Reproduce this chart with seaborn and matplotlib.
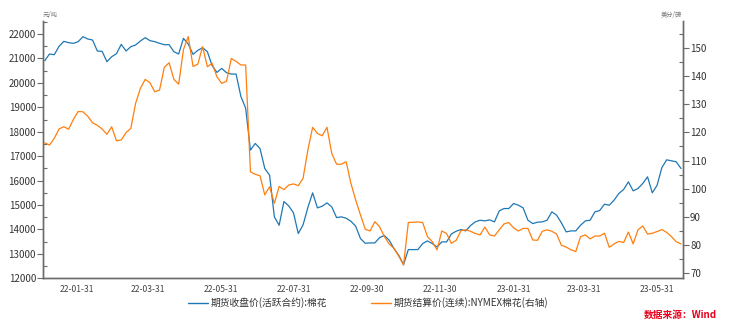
import numpy as np
import pandas as pd
import matplotlib
matplotlib.use("Agg")
import matplotlib.pyplot as plt
import matplotlib.dates as mdates
from matplotlib.ticker import MultipleLocator
from matplotlib.lines import Line2D
import seaborn as sns

# ---------------- data ----------------
start_date = "2022-01-04"
step = "4D"

zce_cotton = [  # 期货收盘价(活跃合约):棉花, 元/吨
    20907, 21181, 21153, 21495, 21700, 21645, 21618, 21686, 21891, 21795,
    21754, 21304, 21290, 20867, 21071, 21194, 21577, 21304, 21481, 21550,
    21713, 21850, 21727, 21686, 21618, 21563, 21563, 21276, 21181, 21823,
    21591, 21167, 21331, 21440, 21276, 20703, 20429, 20593, 20416, 20361,
    20361, 19446, 18968, 17247, 17520, 17315, 16495, 16222, 14515, 14173,
    15143, 14966, 14679, 13832, 14187, 14897, 15498, 14883, 14952, 15088,
    14924, 14487, 14515, 14460, 14337, 14132, 13627,
    13435, 13449, 13449, 13668, 13750, 13558, 13217, 12944, 12561, 13176,
    13176, 13176, 13422, 13531, 13422, 13285, 13490, 13490, 13818, 13927,
    13996, 13941, 14160, 14310, 14378, 14351, 14392, 14310, 14760, 14856,
    14856, 15061, 14993, 14883, 14378, 14241, 14296, 14310, 14378, 14720,
    14583, 14269, 13900, 13941, 13941, 14173, 14351, 14378, 14720, 14774,
    15034, 14993, 15198, 15471, 15635, 15949, 15580, 15676, 15881, 16154,
    15498, 15812, 16536, 16850, 16809, 16769, 16495,
]

nymex_cotton = [  # 期货结算价(连续):NYMEX棉花, 美分/磅
    116.3, 115.5, 117.9, 121.2, 122.0, 121.1, 124.6, 127.4, 127.3, 125.7,
    123.4, 122.5, 121.2, 119.3, 122.0, 117.0, 117.3, 119.9, 121.4, 130.3,
    135.6, 138.8, 137.6, 134.4, 135.0, 143.1, 144.7, 138.8, 137.1, 149.4,
    154.0, 143.4, 144.2, 150.4, 143.3, 144.5, 139.7, 137.4, 138.1, 146.2,
    145.2, 143.9, 143.9, 106.0, 105.1, 104.6, 97.8, 100.7, 94.8, 100.8,
    99.7, 101.3, 101.7, 101.1, 103.7, 113.7, 121.8, 119.6, 118.8, 121.8,
    112.5, 108.7, 108.7, 109.6, 101.9, 96.0, 90.7,
    85.6, 85.0, 88.3, 86.5, 83.0, 80.4, 78.8, 76.1, 72.9, 88.0,
    88.1, 88.2, 88.0, 83.0, 81.2, 78.3, 85.0, 84.1, 80.6, 81.7,
    85.1, 85.4, 84.9, 84.1, 83.6, 86.4, 83.6, 83.2, 85.4, 87.5,
    88.0, 86.1, 85.0, 85.9, 85.9, 81.8, 81.7, 84.9, 85.4, 84.9,
    83.9, 79.9, 79.3, 78.3, 77.7, 83.0, 83.6, 82.2, 83.2, 83.2,
    84.2, 79.2, 80.4, 81.3, 80.9, 84.6, 80.4, 85.4, 86.8, 83.9,
    84.2, 84.8, 85.5, 84.5, 83.0, 81.2, 80.4,
]

label_left = "期货收盘价(活跃合约):棉花"
label_right = "期货结算价(连续):NYMEX棉花(右轴)"
unit_left = "元/吨"
unit_right = "美分/磅"
source_text = "数据来源：Wind"

dates = pd.date_range(start_date, periods=len(zce_cotton), freq=step)
df = pd.DataFrame({"date": dates, "zce": zce_cotton, "nymex": nymex_cotton})

# ---------------- style ----------------
sns.set_style("white")
plt.rcParams["font.family"] = ["Noto Sans CJK SC", "DejaVu Sans"]

c_blue = "#1f77b4"
c_orange = "#ff7f0e"
spine_c = "#6b6b6b"
text_c = "#333333"

fig = plt.figure(figsize=(7.29, 3.24), dpi=100)
ax = fig.add_axes([0.059, 0.141, 0.878, 0.794])
ax2 = ax.twinx()

sns.lineplot(data=df, x="date", y="zce", ax=ax, color=c_blue, linewidth=0.9,
             legend=False)
sns.lineplot(data=df, x="date", y="nymex", ax=ax2, color=c_orange,
             linewidth=0.9, legend=False)

ax.set_xlim(pd.Timestamp("2022-01-02 14:00"), pd.Timestamp("2023-06-21 17:00"))
ax.set_ylim(12000, 22530)
ax2.set_ylim(68.2, 159.5)

ax.set_xlabel("")
ax.set_ylabel("")
ax2.set_ylabel("")

ax.yaxis.set_major_locator(MultipleLocator(1000))
ax.yaxis.set_minor_locator(MultipleLocator(500))
ax2.yaxis.set_major_locator(MultipleLocator(10))
ax2.yaxis.set_minor_locator(MultipleLocator(5))

ax.xaxis.set_major_locator(mdates.MonthLocator(bymonth=[1, 3, 5, 7, 9, 11],
                                               bymonthday=-1))
ax.xaxis.set_minor_locator(mdates.MonthLocator(bymonthday=-1))
ax.xaxis.set_major_formatter(mdates.DateFormatter("%y-%m-%d"))

for a in (ax, ax2):
    a.spines["top"].set_visible(False)
    for s in ("left", "right", "bottom"):
        a.spines[s].set_color(spine_c)
        a.spines[s].set_linewidth(1.0)
    a.grid(False)

ax.tick_params(axis="y", which="major", direction="out", length=4, width=0.8,
               color=spine_c, labelsize=7, labelcolor=text_c, pad=1)
ax.tick_params(axis="y", which="minor", direction="in", length=3, width=0.8,
               color=spine_c)
ax.tick_params(axis="x", which="major", direction="out", length=3, width=0.8,
               color=spine_c, labelsize=6.2, labelcolor="#444444", pad=2)
ax.tick_params(axis="x", which="minor", direction="out", length=3, width=0.8,
               color=spine_c)
ax2.tick_params(axis="y", which="major", direction="out", length=4, width=0.8,
                color=spine_c, labelsize=7, labelcolor=text_c, pad=1)
ax2.tick_params(axis="y", which="minor", direction="in", length=3, width=0.8,
                color=spine_c)

# unit labels
fig.text(0.059, 0.94, unit_left, fontsize=4.5, color="#777777",
         ha="left", va="bottom")
fig.text(0.935, 0.94, unit_right, fontsize=4.5, color="#777777",
         ha="right", va="bottom")

# legend
handles = [Line2D([0], [0], color=c_blue, lw=1.0),
           Line2D([0], [0], color=c_orange, lw=1.0)]
fig.legend(handles, [label_left, label_right], loc="center",
           bbox_to_anchor=(0.505, 0.065), ncol=2, frameon=False,
           fontsize=7, handlelength=2.0, handletextpad=0.25,
           columnspacing=4.6, labelcolor="#333333")

fig.text(0.984, 0.012, source_text, fontsize=7, color="#e8001c",
         ha="right", va="bottom", style="italic", fontweight="bold")

fig.savefig("out.png", dpi=100)
